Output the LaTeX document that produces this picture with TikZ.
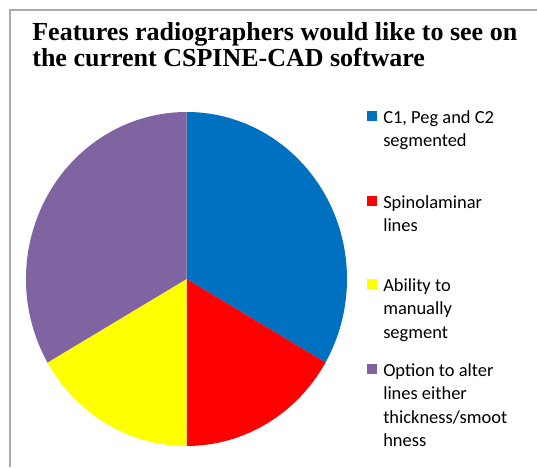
\documentclass[tikz,border=0pt]{standalone}
\usepackage{fontspec}
\setmainfont{Carlito}
\newfontfamily\titlefont{Liberation Serif}
\usetikzlibrary{positioning,calc}
\definecolor{BlueClr}{RGB}{0,112,192}
\definecolor{RedClr}{RGB}{255,0,0}
\definecolor{YellowClr}{RGB}{255,255,0}
\definecolor{PurpleClr}{RGB}{128,100,162}
\definecolor{FrameClr}{RGB}{170,170,170}

\begin{document}
\begin{tikzpicture}[x=0.02cm,y=0.02cm,
  legbox/.style={minimum size=5.6pt,inner sep=0pt,outer sep=0pt},
  legtext/.style={anchor=north west,inner sep=0pt,align=left,
    font=\fontsize{10.5}{13.4}\selectfont},
  titletext/.style={anchor=north west,inner sep=0pt,align=left,
    font=\titlefont\bfseries\fontsize{14.8}{12.6}\selectfont}]
\useasboundingbox (0,0) rectangle (537,467);

% Chart frame (cut off at right and bottom).
\draw[FrameClr,line width=1pt] (10,0) -- (10,457) -- (537,457);

\node[titletext] (title) at (32,445)
  {Features radiographers would like to see on\\the current CSPINE-CAD software};

% The pie.
\coordinate (O) at (186.5,188);
\foreach \clr/\from/\to in {BlueClr/90/-30,RedClr/-30/-90,
    YellowClr/-90/-150,PurpleClr/-150/-270}
  \fill[\clr] (O) -- ++(\from:160.5 and 167)
    arc[start angle=\from,end angle=\to,x radius=160.5,y radius=167] -- cycle;

% Legend.
\foreach \clr/\yy/\txt [count=\i] in {BlueClr/351/{C1, Peg and C2\\segmented},
    RedClr/266/{Spinolaminar\\lines},
    YellowClr/183/{Ability to\\manually\\segment},
    PurpleClr/98/{Option to alter\\lines either\\thickness/smoot\\hness}}
{
  \node[legbox,fill=\clr] (sq\i) at (372,\yy) {};
  \node[legtext] (leg\i) at ($(sq\i.north east)+(6,1)$) {\txt};
}

\end{tikzpicture}
\end{document}
